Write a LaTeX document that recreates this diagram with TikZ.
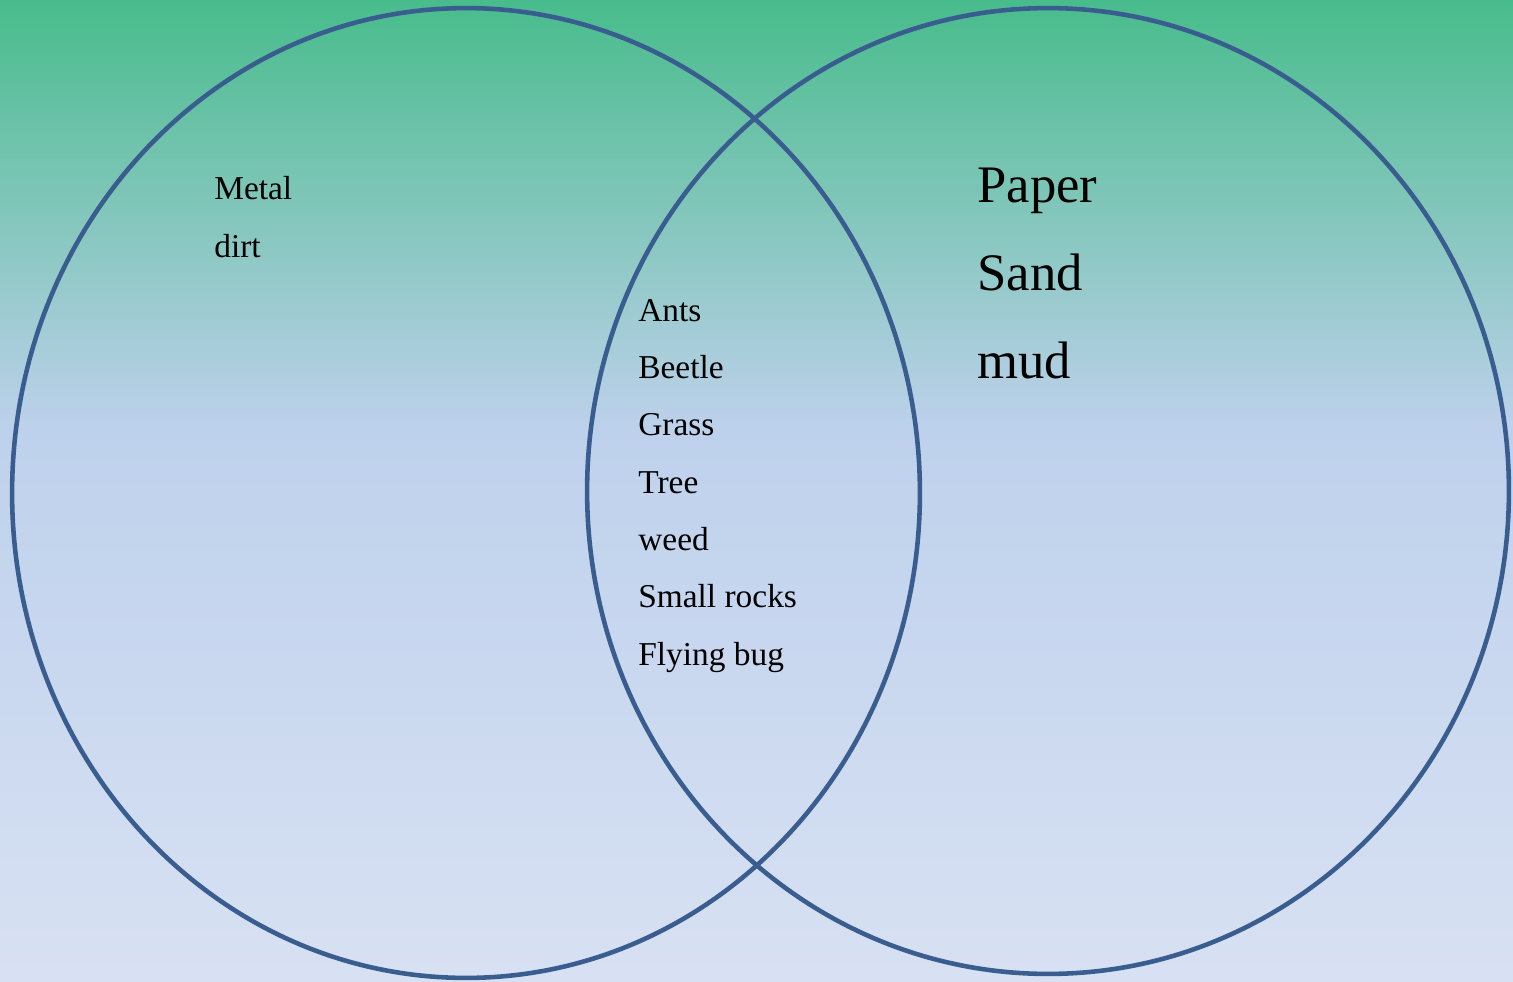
\documentclass[tikz,border=0pt]{standalone}
\usepackage{fontspec}
\setmainfont{Liberation Serif}
\definecolor{topgreen}{RGB}{72,188,140}
\definecolor{midblue}{RGB}{190,209,236}
\definecolor{lowblue}{RGB}{216,225,243}
\definecolor{ringblue}{RGB}{58,93,143}
\tikzset{
  ring/.style={draw=ringblue, line width=2.6pt},
  smalllist/.style={anchor=base west, align=left, inner sep=0pt, font=\fontsize{19}{32.6}\selectfont},
  biglist/.style={anchor=base west, align=left, inner sep=0pt, font=\fontsize{30}{49.9}\selectfont}
}
\begin{document}
\begin{tikzpicture}[x=0.02cm, y=-0.02cm, line join=round, line cap=round]
        \def\W{1513} \def\H{981} \def\M{430} % picture size, colour change
        \useasboundingbox (0,0) rectangle (\W,\H);

        \shade[top color=topgreen, bottom color=midblue] (0,0) rectangle (\W,\M);
        \shade[top color=midblue, bottom color=lowblue] (0,\M-1) rectangle (\W,\H);

        \draw[ring] (466,493) ellipse [x radius=9.08cm, y radius=9.70cm];
        \draw[ring] (1048,491) ellipse [x radius=9.22cm, y radius=9.66cm];

        % base anchor = baseline of the last line
        \node[smalllist] (leftonly) at (214,257) {Metal\\dirt};
        \node[smalllist] (both) at (638,665) {Ants\\Beetle\\Grass\\Tree\\weed\\Small rocks\\Flying bug};
        \node[biglist] (rightonly) at (977,378) {Paper\\Sand\\mud};
    \end{tikzpicture}
\end{document}
